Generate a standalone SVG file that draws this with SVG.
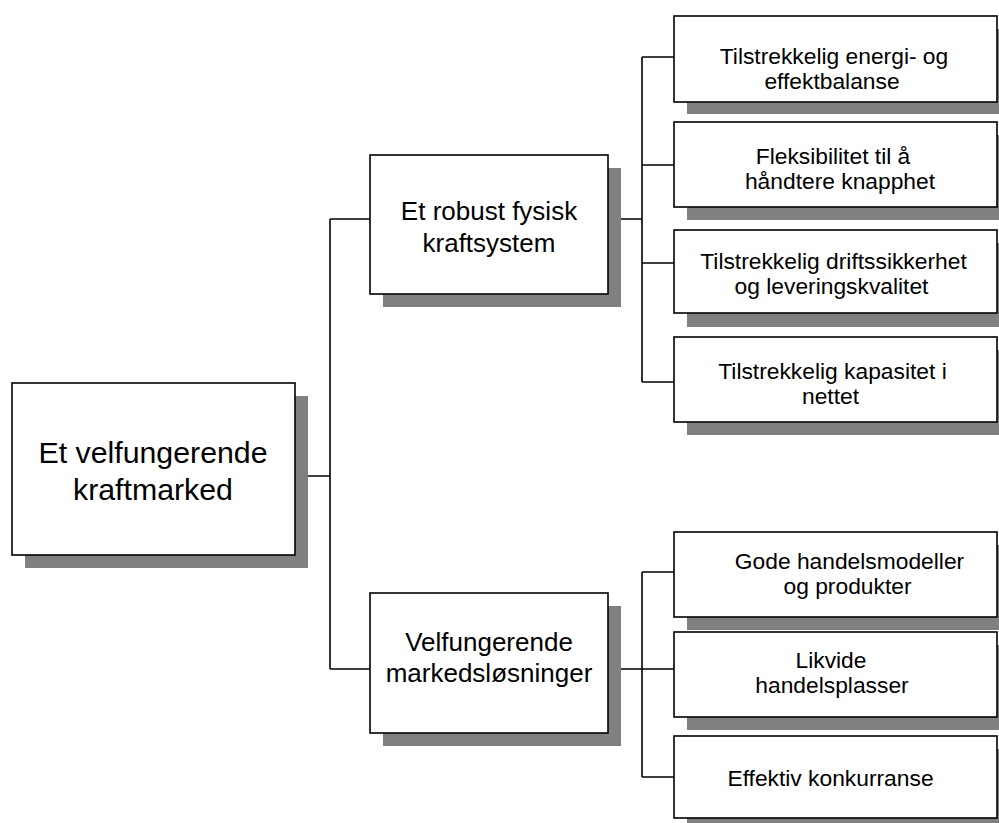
<svg xmlns="http://www.w3.org/2000/svg" width="999" height="823" viewBox="0 0 999 823">
<style>
.box{fill:#fff;stroke:#000;stroke-width:1.6}
.sh{fill:#808080}
.c{fill:none;stroke:#000;stroke-width:1.6}
text{font-family:"Liberation Sans",Arial,sans-serif;fill:#000;text-anchor:middle}
.t1{font-size:30.3px}
.t2{font-size:26px}
.t3{font-size:22.8px}
</style>
<rect width="999" height="823" fill="#fff"/>
<g id="connectors">
<path class="c" d="M295,476 H330 M330,219 V669 M330,219 H370 M330,669 H370"/>
<path class="c" d="M608,219 H642 M642,57 V382 M642,57 H674 M642,165 H674 M642,263 H674 M642,382 H674"/>
<path class="c" d="M608,669 H642 M642,572 V777 M642,572 H674 M642,669 H674 M642,777 H674"/>
</g>
<g id="root">
<rect class="sh" x="25" y="396" width="283" height="172"/>
<rect class="box" x="12" y="383" width="283" height="172"/>
<text class="t1" x="153" y="463">Et velfungerende</text>
<text class="t1" x="153" y="500">kraftmarked</text>
</g>
<g id="robust">
<rect class="sh" x="383" y="168" width="238" height="139"/>
<rect class="box" x="370" y="155" width="238" height="139"/>
<text class="t2" x="489" y="220">Et robust fysisk</text>
<text class="t2" x="489" y="252">kraftsystem</text>
</g>
<g id="marked">
<rect class="sh" x="383" y="606" width="238" height="140"/>
<rect class="box" x="370" y="593" width="238" height="140"/>
<text class="t2" x="489" y="651">Velfungerende</text>
<text class="t2" x="489" y="682">markedsløsninger</text>
</g>
<g id="energi">
<rect class="sh" x="687" y="29" width="323" height="85"/>
<rect class="box" x="674" y="16" width="323" height="86"/>
<text class="t3" x="834" y="64">Tilstrekkelig energi- og</text>
<text class="t3" x="832" y="89">effektbalanse</text>
</g>
<g id="fleks">
<rect class="sh" x="687" y="135" width="323" height="85"/>
<rect class="box" x="674" y="122" width="323" height="85"/>
<text class="t3" x="833" y="164">Fleksibilitet til å</text>
<text class="t3" x="840" y="189">håndtere knapphet</text>
</g>
<g id="drift">
<rect class="sh" x="687" y="243" width="323" height="84"/>
<rect class="box" x="674" y="230" width="323" height="83"/>
<text class="t3" x="833.5" y="269">Tilstrekkelig driftssikkerhet</text>
<text class="t3" x="831.5" y="294">og leveringskvalitet</text>
</g>
<g id="kapasitet">
<rect class="sh" x="687" y="350" width="323" height="85"/>
<rect class="box" x="674" y="337" width="323" height="85"/>
<text class="t3" x="832.5" y="379">Tilstrekkelig kapasitet i</text>
<text class="t3" x="830.5" y="404">nettet</text>
</g>
<g id="handel">
<rect class="sh" x="687" y="545" width="323" height="85"/>
<rect class="box" x="674" y="532" width="323" height="85"/>
<text class="t3" x="849.5" y="569">Gode handelsmodeller</text>
<text class="t3" x="847.5" y="594">og produkter</text>
</g>
<g id="likvide">
<rect class="sh" x="687" y="645" width="323" height="85"/>
<rect class="box" x="674" y="632" width="323" height="85"/>
<text class="t3" x="831" y="668">Likvide</text>
<text class="t3" x="832" y="693">handelsplasser</text>
</g>
<g id="konkurranse">
<rect class="sh" x="687" y="749" width="323" height="85"/>
<rect class="box" x="674" y="736" width="323" height="82"/>
<text class="t3" x="830.5" y="786">Effektiv konkurranse</text>
</g>
</svg>
